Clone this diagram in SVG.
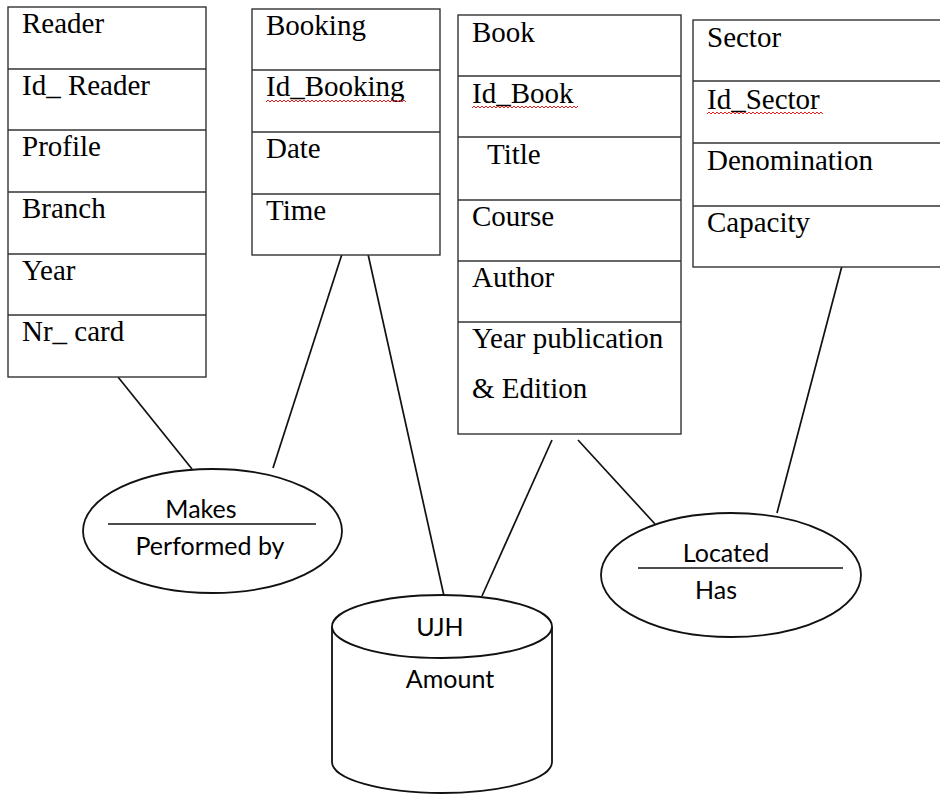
<svg xmlns="http://www.w3.org/2000/svg" width="940" height="794" viewBox="0 0 940 794">
  <style>
    .box { fill: #ffffff; stroke: #333333; stroke-width: 1.4; }
    .row { stroke: #333333; stroke-width: 1.4; }
    .attr { font-family: "Liberation Serif", "Times New Roman", serif; font-size: 29px; fill: #000000; }
    .shape { fill: #ffffff; stroke: #111111; stroke-width: 1.8; }
    .lbl { font-family: Lato, "Liberation Sans", sans-serif; font-size: 25px; fill: #000000; }
    .sep { stroke: #111111; stroke-width: 1.6; }
    .link { stroke: #111111; stroke-width: 1.7; fill: none; }
    .squiggle { fill: none; stroke: #e02020; stroke-width: 1; }
  </style>
  <defs>
    <!-- one long spell-check wave, trimmed per word by clip paths -->
    <path id="wave" d="M0,0 l2,-2 2,2 2,-2 2,2 2,-2 2,2 2,-2 2,2 2,-2 2,2 2,-2 2,2 2,-2 2,2 2,-2 2,2 2,-2 2,2 2,-2 2,2 2,-2 2,2 2,-2 2,2 2,-2 2,2 2,-2 2,2 2,-2 2,2 2,-2 2,2 2,-2 2,2 2,-2 2,2 2,-2 2,2 2,-2 2,2 2,-2 2,2 2,-2 2,2 2,-2 2,2 2,-2 2,2 2,-2 2,2 2,-2 2,2 2,-2 2,2 2,-2 2,2 2,-2 2,2 2,-2 2,2 2,-2 2,2 2,-2 2,2 2,-2 2,2 2,-2 2,2 2,-2 2,2 2,-2 2,2 2,-2 2,2 2,-2 2,2 2,-2 2,2 2,-2 2,2 2,-2 2,2"/>
    <clipPath id="clipBooking"><rect x="265" y="95" width="141" height="12"/></clipPath>
    <clipPath id="clipBook"><rect x="471" y="101" width="107" height="12"/></clipPath>
    <clipPath id="clipSector"><rect x="706" y="107" width="117" height="12"/></clipPath>
  </defs>

  <!-- relationship lines -->
  <g id="connectors">
    <line class="link" x1="118" y1="377" x2="192" y2="469"/>
    <line class="link" x1="342" y1="254" x2="273" y2="468"/>
    <line class="link" x1="368" y1="254" x2="444" y2="596"/>
    <line class="link" x1="552" y1="440" x2="482" y2="596"/>
    <line class="link" x1="578" y1="440" x2="655" y2="524"/>
    <line class="link" x1="843" y1="262" x2="777" y2="513"/>
  </g>

  <!-- Reader entity -->
  <g id="reader">
    <rect class="box" x="8" y="7" width="198" height="370"/>
    <line class="row" x1="8" y1="69" x2="206" y2="69"/>
    <line class="row" x1="8" y1="130" x2="206" y2="130"/>
    <line class="row" x1="8" y1="192" x2="206" y2="192"/>
    <line class="row" x1="8" y1="254" x2="206" y2="254"/>
    <line class="row" x1="8" y1="315" x2="206" y2="315"/>
    <text class="attr" x="22" y="33">Reader</text>
    <text class="attr" x="22" y="95">Id_ Reader</text>
    <text class="attr" x="22" y="156">Profile</text>
    <text class="attr" x="22" y="218">Branch</text>
    <text class="attr" x="22" y="280">Year</text>
    <text class="attr" x="22" y="341">Nr_ card</text>
  </g>

  <!-- Booking entity -->
  <g id="booking">
    <rect class="box" x="252" y="9" width="188" height="246"/>
    <line class="row" x1="252" y1="70" x2="440" y2="70"/>
    <line class="row" x1="252" y1="132" x2="440" y2="132"/>
    <line class="row" x1="252" y1="194" x2="440" y2="194"/>
    <text class="attr" x="266" y="35">Booking</text>
    <text class="attr" x="266" y="96">Id_Booking</text>
    <g clip-path="url(#clipBooking)"><use href="#wave" class="squiggle" x="266" y="102"/></g>
    <text class="attr" x="266" y="158">Date</text>
    <text class="attr" x="266" y="220">Time</text>
  </g>

  <!-- Book entity -->
  <g id="book">
    <rect class="box" x="458" y="15" width="223" height="419"/>
    <line class="row" x1="458" y1="76" x2="681" y2="76"/>
    <line class="row" x1="458" y1="137" x2="681" y2="137"/>
    <line class="row" x1="458" y1="200" x2="681" y2="200"/>
    <line class="row" x1="458" y1="261" x2="681" y2="261"/>
    <line class="row" x1="458" y1="322" x2="681" y2="322"/>
    <text class="attr" x="472" y="42">Book</text>
    <text class="attr" x="472" y="103">Id_Book</text>
    <g clip-path="url(#clipBook)"><use href="#wave" class="squiggle" x="472" y="108"/></g>
    <text class="attr" x="487" y="164">Title</text>
    <text class="attr" x="472" y="226">Course</text>
    <text class="attr" x="472" y="287">Author</text>
    <text class="attr" x="472" y="348">Year publication</text>
    <text class="attr" x="472" y="398">&amp; Edition</text>
  </g>

  <!-- Sector entity -->
  <g id="sector">
    <rect class="box" x="693" y="20" width="260" height="247"/>
    <line class="row" x1="693" y1="81" x2="940" y2="81"/>
    <line class="row" x1="693" y1="143" x2="940" y2="143"/>
    <line class="row" x1="693" y1="206" x2="940" y2="206"/>
    <text class="attr" x="707" y="47">Sector</text>
    <text class="attr" x="707" y="109">Id_Sector</text>
    <g clip-path="url(#clipSector)"><use href="#wave" class="squiggle" x="707" y="114"/></g>
    <text class="attr" x="707" y="170">Denomination</text>
    <text class="attr" x="707" y="232">Capacity</text>
  </g>

  <!-- Makes / Performed by relationship -->
  <g id="makes">
    <ellipse class="shape" cx="212.5" cy="531" rx="129.5" ry="62"/>
    <line class="sep" x1="108" y1="524" x2="316" y2="524"/>
    <text class="lbl" x="201" y="518" text-anchor="middle">Makes</text>
    <text class="lbl" x="210" y="555" text-anchor="middle">Performed by</text>
  </g>

  <!-- Located / Has relationship -->
  <g id="located">
    <ellipse class="shape" cx="731" cy="575" rx="130" ry="62"/>
    <line class="sep" x1="638" y1="568" x2="843" y2="568"/>
    <text class="lbl" x="726" y="562" text-anchor="middle">Located</text>
    <text class="lbl" x="716" y="599" text-anchor="middle">Has</text>
  </g>

  <!-- UJH store -->
  <g id="ujh">
    <path class="shape" d="M332,626.5 L332,762 A110,31 0 0 0 552,762 L552,626.5"/>
    <ellipse class="shape" cx="442" cy="626.5" rx="110" ry="31.5"/>
    <text class="lbl" x="440" y="636" text-anchor="middle">UJH</text>
    <text class="lbl" x="450" y="688" text-anchor="middle">Amount</text>
  </g>
</svg>
